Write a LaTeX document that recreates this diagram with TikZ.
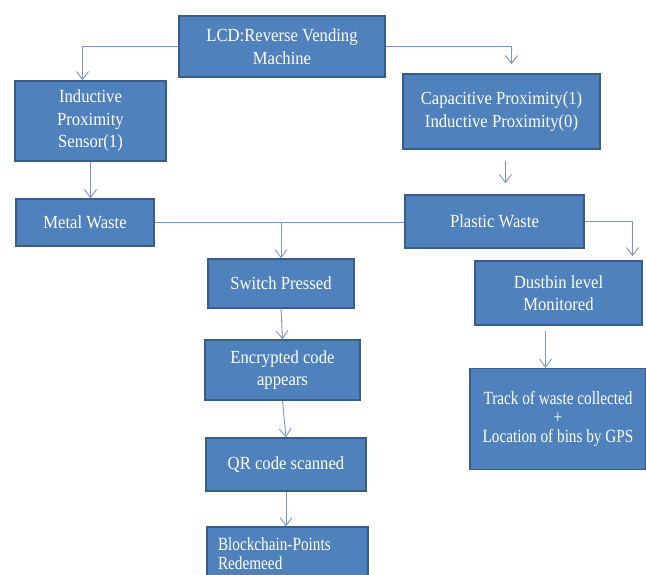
\documentclass[tikz,border=0pt]{standalone}
\usepackage{fontspec}
\setmainfont[FakeStretch=0.9]{Liberation Serif}
\newfontfamily\narrowserif[FakeStretch=0.82]{Liberation Serif}
\usetikzlibrary{arrows.meta}
\definecolor{boxfill}{RGB}{79,129,189}
\definecolor{boxline}{RGB}{56,93,138}
\definecolor{linkblue}{RGB}{122,150,200}

\begin{document}
\begin{tikzpicture}[x=1pt,y=-1pt,
    blk/.style={rectangle,draw=boxline,fill=boxfill,line width=1.5pt,
        text=white,align=center,inner sep=0pt,
        font=\fontsize{18.5}{22.5}\selectfont},
    sml/.style={font=\narrowserif\fontsize{18.6}{19}\selectfont},
    link/.style={draw=linkblue,line width=0.9pt},
    arr/.style={link,-{Straight Barb[length=8pt,width=12pt]}}]

    \clip (0,0) rectangle (646,574);
    \fill[white] (0,0) rectangle (646,574);

    \node[blk,minimum width=206,minimum height=61] (lcd) at (282,46.5)
        {LCD:Reverse Vending\\Machine};
    \node[blk,minimum width=151,minimum height=80] (ind) at (90.5,121)
        {Inductive\\Proximity\\Sensor(1)};
    \node[blk,minimum width=197,minimum height=75] (cap) at (501.5,111.5)
        {Capacitive Proximity(1)\\Inductive Proximity(0)};
    \node[blk,minimum width=138,minimum height=47] (metal) at (85,222.5)
        {Metal Waste};
    \node[blk,minimum width=179,minimum height=53] (plastic) at (494.5,221.5)
        {Plastic Waste};
    \node[blk,minimum width=146,minimum height=49] (switch) at (281,283.5)
        {Switch Pressed};
    \node[blk,minimum width=167,minimum height=64] (dust) at (558.5,293)
        {Dustbin level\\Monitored};
    \node[blk,minimum width=155,minimum height=60] (enc) at (282.5,370)
        {Encrypted code\\appears};
    \node[blk,sml,minimum width=176,minimum height=101] (track) at (558,419)
        {Track of waste collected\\+\\Location of bins by GPS};
    \node[blk,minimum width=160,minimum height=53] (qr) at (286,464.5)
        {QR code scanned};
    \node[blk,sml,minimum width=161,minimum height=54,text width=139,
        align=left] (block) at (287.5,554)
        {Blockchain-Points\\Redemeed};

    \draw[arr] (lcd.west) -| ([xshift=-8pt]ind.north);
    \draw[arr,shorten >=9pt] (lcd.east) -| ([xshift=10pt]cap.north);
    \draw[arr] (ind.south) -- (ind.south |- metal.north);
    \draw[arr,shorten <=11pt,shorten >=11pt] ([xshift=4pt]cap.south) --
        ([xshift=4pt]cap.south |- plastic.north);
    \draw[link] (metal.east) -- (metal.east -| plastic.west);
    \coordinate (fork) at (switch.north |- metal.east);
    \draw[arr] (fork) -- (switch.north);
    \draw[arr,shorten >=4pt] (plastic.east) -| ([xshift=74pt]dust.north);
    \draw[arr] (switch.south) -- (enc.north);
    \draw[arr,shorten <=5pt] ([xshift=-13pt]dust.south) --
        ([xshift=-13pt]dust.south |- track.north);
    \draw[arr] (enc.south) -- (qr.north);
    \draw[arr] (qr.south) -- (qr.south |- block.north);
\end{tikzpicture}
\end{document}
